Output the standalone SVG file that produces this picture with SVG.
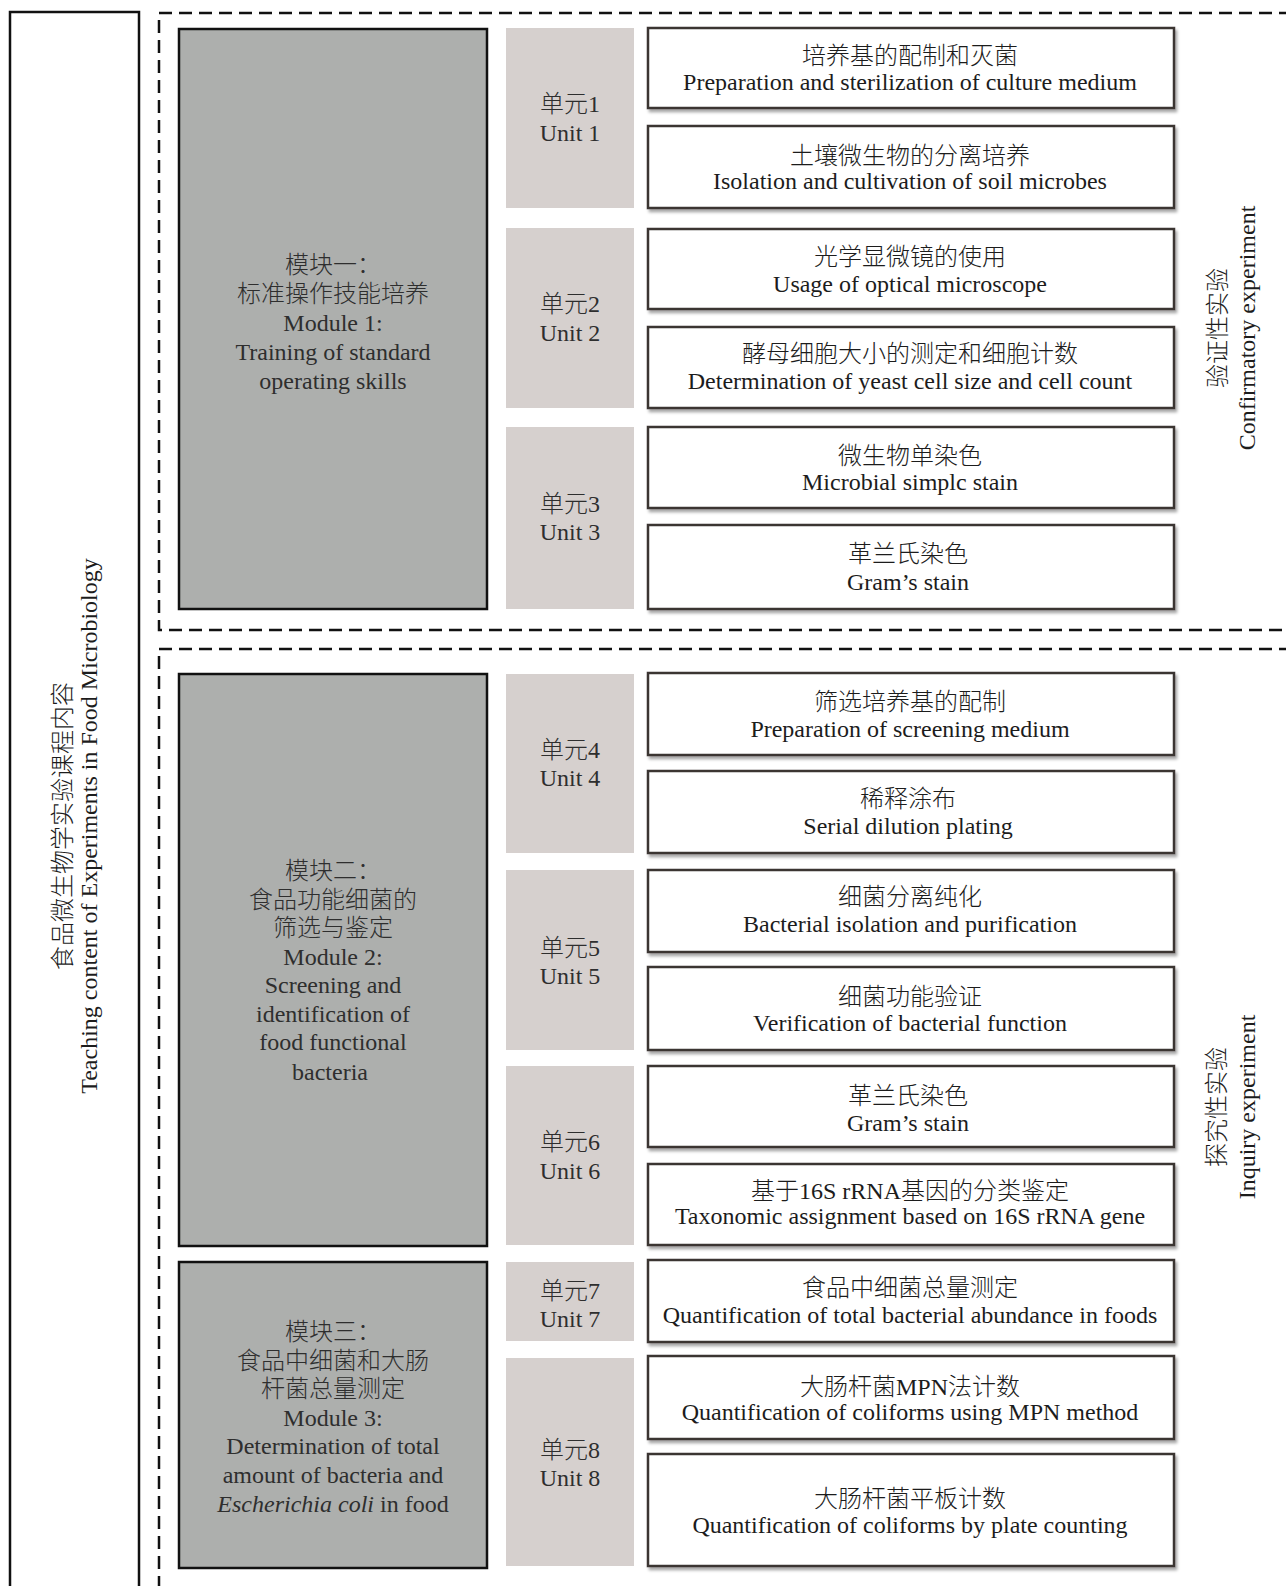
<svg xmlns="http://www.w3.org/2000/svg" width="1286" height="1586" viewBox="0 0 1286 1586">
<defs>
<filter id="sh" x="-5%" y="-10%" width="110%" height="130%">
<feDropShadow dx="2" dy="3" stdDeviation="1.5" flood-color="#000" flood-opacity="0.35"/>
</filter>
<style>
text{font-family:"Liberation Serif","Noto Sans CJK SC",serif;font-size:24px;font-weight:300;text-anchor:middle;fill:#1c1c1c}
.mod{fill:#adafad;stroke:#111;stroke-width:2.5}
.unit{fill:#d6d0ce}
.item{fill:#fff;stroke:#3a3533;stroke-width:2.5;filter:url(#sh)}
.dash{fill:none;stroke:#111;stroke-width:2.5;stroke-dasharray:13 7}
.mt{fill:#2e2e2e}
.ut{fill:#2e2e2e}
</style>
</defs>
<rect x="0" y="0" width="1286" height="1586" fill="#fff"/>

<g id="frame">
<rect x="10" y="12" width="129" height="1600" fill="none" stroke="#111" stroke-width="2.5"/>
<path class="dash" d="M1292 13 H159 V630 H1292"/>
<path class="dash" d="M1292 649 H159 V1600"/>
</g>

<g id="title">
<text transform="translate(71,826) rotate(-90)">食品微生物学实验课程内容</text>
<text transform="translate(97,826) rotate(-90)">Teaching content of Experiments in Food Microbiology</text>
</g>

<g id="label-confirm">
<text transform="translate(1226,328) rotate(-90)">验证性实验</text>
<text transform="translate(1255,328) rotate(-90)">Confirmatory experiment</text>
</g>
<g id="label-inquiry">
<text transform="translate(1225,1107) rotate(-90)">探究性实验</text>
<text transform="translate(1255,1107) rotate(-90)">Inquiry experiment</text>
</g>

<g id="module1">
<rect class="mod" x="179" y="29" width="308" height="580"/>
<text class="mt" x="333" y="273">模块一：</text>
<text class="mt" x="333" y="302">标准操作技能培养</text>
<text class="mt" x="333" y="331">Module 1:</text>
<text class="mt" x="333" y="360">Training of standard</text>
<text class="mt" x="333" y="389">operating skills</text>
</g>
<g id="module2">
<rect class="mod" x="179" y="674" width="308" height="572"/>
<text class="mt" x="333" y="879">模块二：</text>
<text class="mt" x="333" y="908">食品功能细菌的</text>
<text class="mt" x="333" y="936">筛选与鉴定</text>
<text class="mt" x="333" y="965">Module 2:</text>
<text class="mt" x="333" y="993">Screening and</text>
<text class="mt" x="333" y="1022">identification of</text>
<text class="mt" x="333" y="1050">food functional</text>
<text class="mt" x="330" y="1080">bacteria</text>
</g>
<g id="module3">
<rect class="mod" x="179" y="1262" width="308" height="306"/>
<text class="mt" x="333" y="1340">模块三：</text>
<text class="mt" x="333" y="1369">食品中细菌和大肠</text>
<text class="mt" x="333" y="1397">杆菌总量测定</text>
<text class="mt" x="333" y="1426">Module 3:</text>
<text class="mt" x="333" y="1454">Determination of total</text>
<text class="mt" x="333" y="1483">amount of bacteria and</text>
<text class="mt" x="333" y="1512"><tspan font-style="italic">Escherichia coli</tspan> in food</text>
</g>

<g id="unit1"><rect class="unit" x="506" y="28" width="128" height="180"/><text class="ut" x="570" y="112">单元1</text><text class="ut" x="570" y="141">Unit 1</text></g>
<g id="unit2"><rect class="unit" x="506" y="228" width="128" height="180"/><text class="ut" x="570" y="312">单元2</text><text class="ut" x="570" y="341">Unit 2</text></g>
<g id="unit3"><rect class="unit" x="506" y="427" width="128" height="182"/><text class="ut" x="570" y="512">单元3</text><text class="ut" x="570" y="540">Unit 3</text></g>
<g id="unit4"><rect class="unit" x="506" y="674" width="128" height="179"/><text class="ut" x="570" y="758">单元4</text><text class="ut" x="570" y="786">Unit 4</text></g>
<g id="unit5"><rect class="unit" x="506" y="870" width="128" height="180"/><text class="ut" x="570" y="956">单元5</text><text class="ut" x="570" y="984">Unit 5</text></g>
<g id="unit6"><rect class="unit" x="506" y="1066" width="128" height="179"/><text class="ut" x="570" y="1150">单元6</text><text class="ut" x="570" y="1179">Unit 6</text></g>
<g id="unit7"><rect class="unit" x="506" y="1262" width="128" height="79"/><text class="ut" x="570" y="1299">单元7</text><text class="ut" x="570" y="1327">Unit 7</text></g>
<g id="unit8"><rect class="unit" x="506" y="1358" width="128" height="208"/><text class="ut" x="570" y="1458">单元8</text><text class="ut" x="570" y="1486">Unit 8</text></g>

<g id="item1"><rect class="item" x="648" y="28" width="526" height="80"/><text x="910" y="64">培养基的配制和灭菌</text><text x="910" y="90">Preparation and sterilization of culture medium</text></g>
<g id="item2"><rect class="item" x="648" y="126" width="526" height="82"/><text x="910" y="164">土壤微生物的分离培养</text><text x="910" y="189">Isolation and cultivation of soil microbes</text></g>
<g id="item3"><rect class="item" x="648" y="229" width="526" height="80"/><text x="910" y="265">光学显微镜的使用</text><text x="910" y="292">Usage of optical microscope</text></g>
<g id="item4"><rect class="item" x="648" y="327" width="526" height="81"/><text x="910" y="362">酵母细胞大小的测定和细胞计数</text><text x="910" y="389">Determination of yeast cell size and cell count</text></g>
<g id="item5"><rect class="item" x="648" y="427" width="526" height="81"/><text x="910" y="464">微生物单染色</text><text x="910" y="490">Microbial simplc stain</text></g>
<g id="item6"><rect class="item" x="648" y="525" width="526" height="84"/><text x="908" y="562">革兰氏染色</text><text x="908" y="590">Gram’s stain</text></g>
<g id="item7"><rect class="item" x="648" y="673" width="526" height="82"/><text x="910" y="710">筛选培养基的配制</text><text x="910" y="737">Preparation of screening medium</text></g>
<g id="item8"><rect class="item" x="648" y="771" width="526" height="82"/><text x="908" y="807">稀释涂布</text><text x="908" y="834">Serial dilution plating</text></g>
<g id="item9"><rect class="item" x="648" y="870" width="526" height="82"/><text x="910" y="905">细菌分离纯化</text><text x="910" y="932">Bacterial isolation and purification</text></g>
<g id="item10"><rect class="item" x="648" y="967" width="526" height="83"/><text x="910" y="1005">细菌功能验证</text><text x="910" y="1031">Verification of bacterial function</text></g>
<g id="item11"><rect class="item" x="648" y="1066" width="526" height="81"/><text x="908" y="1104">革兰氏染色</text><text x="908" y="1131">Gram’s stain</text></g>
<g id="item12"><rect class="item" x="648" y="1164" width="526" height="81"/><text x="910" y="1199">基于16S rRNA基因的分类鉴定</text><text x="910" y="1224">Taxonomic assignment based on 16S rRNA gene</text></g>
<g id="item13"><rect class="item" x="648" y="1260" width="526" height="82"/><text x="910" y="1296">食品中细菌总量测定</text><text x="910" y="1323">Quantification of total bacterial abundance in foods</text></g>
<g id="item14"><rect class="item" x="648" y="1356" width="526" height="83"/><text x="910" y="1395">大肠杆菌MPN法计数</text><text x="910" y="1420">Quantification of coliforms using MPN method</text></g>
<g id="item15"><rect class="item" x="648" y="1454" width="526" height="112"/><text x="910" y="1507">大肠杆菌平板计数</text><text x="910" y="1533">Quantification of coliforms by plate counting</text></g>
</svg>
